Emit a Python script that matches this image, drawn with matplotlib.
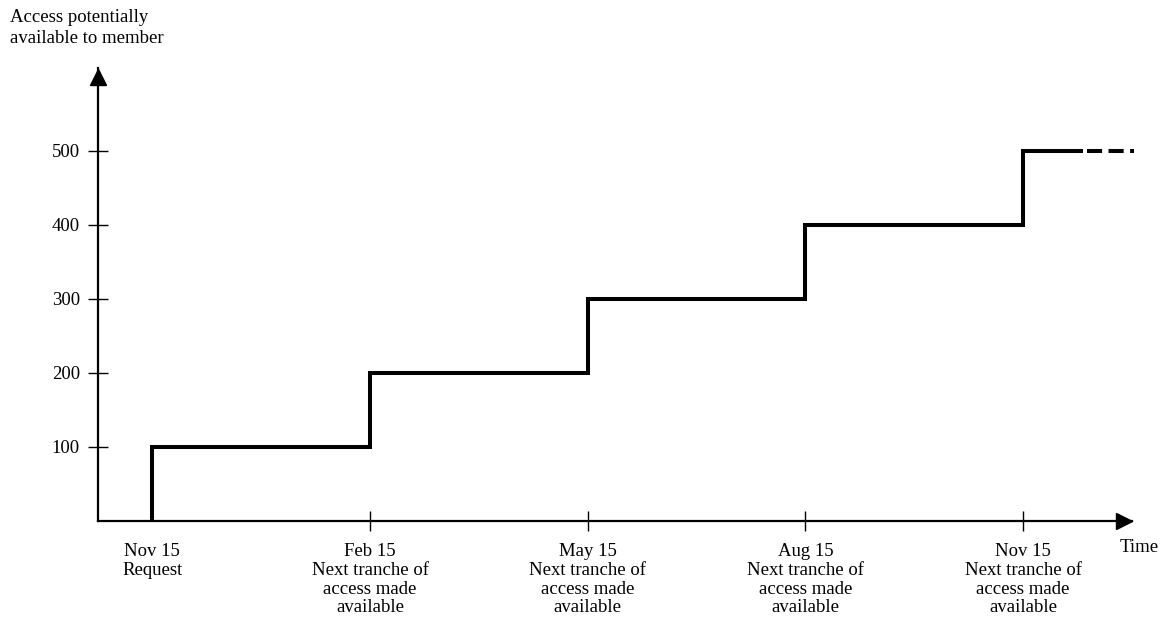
import numpy as np
import matplotlib.pyplot as plt

plt.rcParams['font.family'] = ['Liberation Serif', 'DejaVu Serif']

# quarters after the request, access level reached at each quarter
quarters = [0, 1, 2, 3, 4]
access = [100, 200, 300, 400, 500]
tick_labels = ['Nov 15\nRequest',
               'Feb 15\nNext tranche of\naccess made\navailable',
               'May 15\nNext tranche of\naccess made\navailable',
               'Aug 15\nNext tranche of\naccess made\navailable',
               'Nov 15\nNext tranche of\naccess made\navailable']
y_ticks = [100, 200, 300, 400, 500]
solid_end = 4.267   # where the last level turns dashed
dash_end = 4.51

fs = 13.5
fig = plt.figure(figsize=(11.67, 6.32), dpi=100)
ax = fig.add_axes([98/1167, 1-521/632, (1132-98)/1167, (521-68)/632])
ax.set_xlim(-0.25, 4.50)
ax.set_ylim(0, 612)

for s in ['top', 'right']:
    ax.spines[s].set_visible(False)
for s in ['left', 'bottom']:
    ax.spines[s].set_linewidth(1.6)

# step line
xs = [quarters[0]] + quarters + [solid_end]
ys = [0] + access + [access[-1]]
ax.step(xs, ys, where='post', color='black', lw=2.9, solid_joinstyle='miter')
ax.plot([solid_end + 0.025, dash_end], [access[-1]] * 2, color='black', lw=2.9,
        dashes=(3.75, 1.6), dash_capstyle='butt', clip_on=False)

# arrow heads
ax.plot([-0.25], [600], marker='^', color='black', ms=11, clip_on=False)
ax.plot([4.465], [0], marker='>', color='black', ms=11, clip_on=False)

ax.set_yticks(y_ticks)
ax.set_yticklabels([str(v) for v in y_ticks], fontsize=fs)
ax.set_xticks(quarters)
ax.set_xticklabels(tick_labels, fontsize=fs, linespacing=1.13)
ax.tick_params(axis='both', direction='inout', length=14, width=1, color='black')
ax.tick_params(axis='y', pad=6)
ax.tick_params(axis='x', pad=9)
ax.xaxis.get_major_ticks()[0].tick1line.set_markersize(0)

fig.text(1139/1167, 1-548/632, 'Time', fontsize=fs, ha='center', va='center')
fig.text(10/1167, 1-9/632, 'Access potentially\navailable to member', fontsize=fs,
         ha='left', va='top', linespacing=1.3)

fig.savefig('out.png', dpi=100)
